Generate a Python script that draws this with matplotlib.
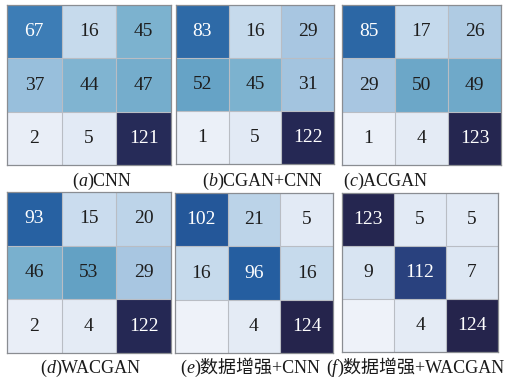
import matplotlib
matplotlib.use("Agg")
import matplotlib.pyplot as plt
import numpy as np
from matplotlib.colors import LinearSegmentedColormap, Normalize

plt.rcParams['font.family'] = ['Liberation Serif', 'Noto Sans CJK SC']

# confusion matrices (rows: true class, cols: predicted class); 0 = empty cell
cnn = [[67, 16, 45], [37, 44, 47], [2, 5, 121]]
cgan_cnn = [[83, 16, 29], [52, 45, 31], [1, 5, 122]]
acgan = [[85, 17, 26], [29, 50, 49], [1, 4, 123]]
wacgan = [[93, 15, 20], [46, 53, 29], [2, 4, 122]]
aug_cnn = [[102, 21, 5], [16, 96, 16], [0, 4, 124]]
aug_wacgan = [[123, 5, 5], [9, 112, 7], [0, 4, 124]]

matrices = [cnn, cgan_cnn, acgan, wacgan, aug_cnn, aug_wacgan]
tags = ['a', 'b', 'c', 'd', 'e', 'f']
names = ['CNN', 'CGAN+CNN', 'ACGAN', 'WACGAN', '数据增强+CNN', '数据增强+WACGAN']

W, H = 524, 380
# panel boxes in pixels: left, top, right, bottom
boxes = [(7, 5, 171, 165), (176, 5, 334, 164), (342, 5, 501, 165),
         (7, 192, 171, 353), (175, 193, 333, 353), (342, 193, 498, 352)]
# caption left edge / baseline in pixels
caps = [(72, 186), (202, 186), (343, 186), (40, 373), (180, 373), (326, 373)]

vmax = 124
anchors = [(0, '#eef2f9'), (5, '#e2eaf5'), (16, '#c7dbed'), (29, '#a8c6e1'),
           (37, '#98bfdc'), (45, '#7cb2cf'), (53, '#64a2c5'), (67, '#3e7eb7'),
           (85, '#2d68a6'), (100, '#235c9f'), (112, '#2a4280'), (124, '#25244c')]
cmap = LinearSegmentedColormap.from_list('cm', [(v / vmax, c) for v, c in anchors])
norm = Normalize(0, vmax)

fig = plt.figure(figsize=(W / 100, H / 100), dpi=100)

for m, (l, t, r, b) in zip(matrices, boxes):
    ax = fig.add_axes([l / W, 1 - b / H, (r - l) / W, (b - t) / H])
    m = np.array(m)
    ax.imshow(m, cmap=cmap, norm=norm, aspect='auto')
    for k in (0.5, 1.5):
        ax.axhline(k, color='#b9bdc4', lw=0.8)
        ax.axvline(k, color='#b9bdc4', lw=0.8)
    for i in range(3):
        for j in range(3):
            v = m[i, j]
            if v == 0:
                continue
            ax.text(j, i, str(v), ha='center', va='center', fontsize=14,
                    color='white' if v > 60 else '#1e1e1e')
    ax.set_xticks([])
    ax.set_yticks([])
    for s in ax.spines.values():
        s.set_color('#8a8d92')
        s.set_linewidth(0.9)

# captions: "(" + italic letter + ")" + name
renderer = fig.canvas.get_renderer()
for tag, name, (x, y) in zip(tags, names, caps):
    pieces = [('(', 'normal'), (tag, 'italic'), (')' + name, 'normal')]
    px = x
    for s, style in pieces:
        txt = fig.text(px / W, 1 - y / H, s, fontsize=13, style=style,
                       ha='left', va='baseline', color='#1a1a1a')
        px += txt.get_window_extent(renderer).width

fig.savefig('out.png', dpi=100)
